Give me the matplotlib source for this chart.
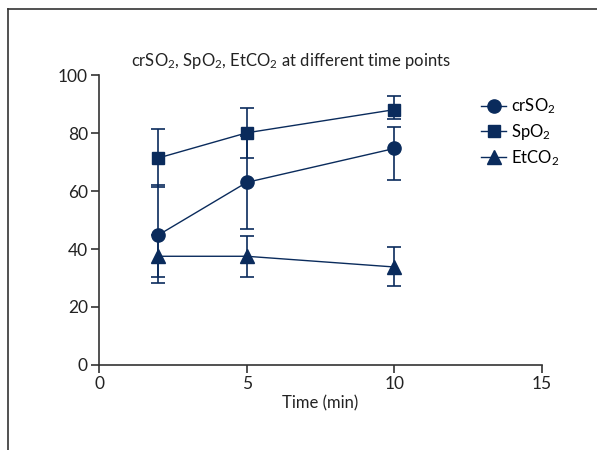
import matplotlib
matplotlib.use('Agg')
import matplotlib.pyplot as plt
from matplotlib.lines import Line2D

plt.rcParams['font.family'] = ['Lato', 'DejaVu Sans']
plt.rcParams['mathtext.fontset'] = 'custom'
plt.rcParams['mathtext.rm'] = 'Lato'
plt.rcParams['mathtext.it'] = 'Lato'
plt.rcParams['mathtext.default'] = 'regular'

# --- Data ---
time = [2, 5, 10]

crso2 = [44.8, 63.0, 74.7]
crso2_lo = [16.5, 16.0, 10.9]
crso2_hi = [17.2, 16.0, 7.5]

spo2 = [71.4, 80.1, 88.1]
spo2_lo = [10.0, 8.8, 3.1]
spo2_hi = [10.0, 8.6, 4.8]

etco2 = [37.5, 37.5, 33.8]
etco2_lo = [7.2, 7.1, 6.5]
etco2_hi = [7.2, 6.9, 7.0]

navy = '#0a2b5c'
axcol = '#333333'

fig = plt.figure(figsize=(5.97, 4.5), dpi=100)
ax = fig.add_axes([0.166, 0.189, 0.742, 0.644])

common = dict(color=navy, lw=1.0, elinewidth=1.2, capsize=5, capthick=1.2)
ax.errorbar(time, crso2, yerr=[crso2_lo, crso2_hi], marker='o', ms=9.5,
            label=r'crSO$_2$', **common)
ax.errorbar(time, spo2, yerr=[spo2_lo, spo2_hi], marker='s', ms=9,
            label=r'SpO$_2$', **common)
ax.errorbar(time, etco2, yerr=[etco2_lo, etco2_hi], marker='^', ms=9.5,
            label=r'EtCO$_2$', **common)

ax.set_xlim(0, 15)
ax.set_ylim(0, 100)
ax.set_xticks([0, 5, 10, 15])
ax.set_yticks([0, 20, 40, 60, 80, 100])
for s in ['top', 'right']:
    ax.spines[s].set_visible(False)
for s in ['left', 'bottom']:
    ax.spines[s].set_color(axcol)
    ax.spines[s].set_linewidth(1.2)
ax.tick_params(colors=axcol, labelcolor='#222222', labelsize=12.5,
               length=6, width=1.2, pad=2)
ax.set_xlabel('Time (min)', fontsize=12, color='#222222', labelpad=2)

fig.text(0.487, 0.865, r'crSO$_2$, SpO$_2$, EtCO$_2$ at different time points',
         ha='center', va='center', fontsize=12, color='#222222')

handles, labels = ax.get_legend_handles_labels()
handles = [h[0] for h in handles]
fig.legend(handles, labels, loc='upper left', bbox_to_anchor=(0.795, 0.8),
           frameon=False, fontsize=12, handlelength=1.5, handletextpad=0.3,
           labelspacing=0.35, borderaxespad=0)

# outer frame lines (top and left)
fig.add_artist(Line2D([8 / 597, 1], [1 - 9 / 450, 1 - 9 / 450],
                      transform=fig.transFigure, color='#333333', lw=1.2))
fig.add_artist(Line2D([8 / 597, 8 / 597], [0, 1 - 9 / 450],
                      transform=fig.transFigure, color='#333333', lw=1.2))

plt.savefig('out.png', dpi=100)
